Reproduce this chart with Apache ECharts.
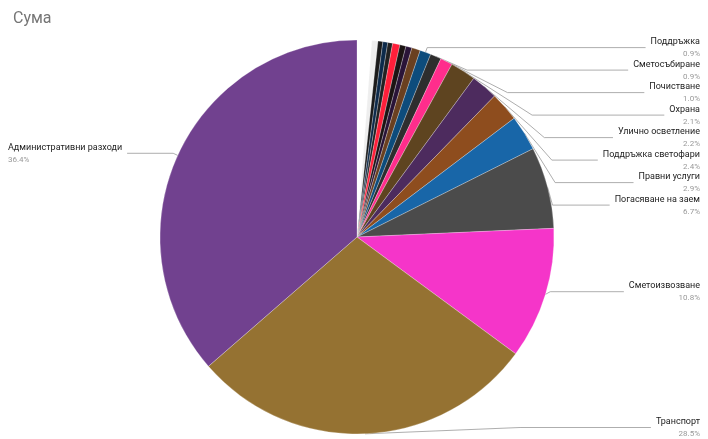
<!DOCTYPE html>
<html><head><meta charset="utf-8">
<script src="https://cdn.jsdelivr.net/npm/echarts@6/dist/echarts.min.js"></script>
<style>html,body{margin:0;padding:0;background:#fff}#chart{width:708px;height:439px}</style>
</head><body><div id="chart"></div>
<script>
var names = ['', ' ', '  ', '   ', '    ', '     ', '      ', '       ', '        ',
	'Поддръжка', 'Сметосъбиране', 'Почистване', 'Охрана', 'Улично осветление',
	'Поддръжка светофари', 'Правни услуги', 'Погасяване на заем', 'Сметоизвозване',
	'Транспорт', 'Административни разходи'];
var values = [1.2, 0.5, 0.4, 0.4, 0.4, 0.6, 0.5, 0.5, 0.7,
	0.9, 0.9, 1.0, 2.1, 2.2, 2.4, 2.9, 6.7, 10.8, 28.5, 36.4];
var colors = ['#ffffff', '#eeeeee', '#1a1a1a', '#0d2a4a', '#222222', '#ff1f3a', '#1c1414', '#2a1438', '#6a4020',
	'#0d4c7c', '#2e2e2e', '#ff2d8c', '#5e4420', '#4d2b5e', '#8e4d1e', '#1866a8', '#4b4b4b', '#f535c9',
	'#957232', '#71418f'];

var data = names.map(function(n, i) {
	var d = {name: n, value: values[i], itemStyle: {color: colors[i]}};
	if (n.trim() === '') {
		d.label = {show: false};
		d.labelLine = {show: false};
	}
	return d;
});

var chart = echarts.init(document.getElementById('chart'));
chart.setOption({
	animation: false,
	title: {text: 'Сума', left: 8, top: 6, textStyle: {fontFamily: 'Roboto', fontSize: 16, fontWeight: 'normal', color: '#757575'}},
	series: [{
		type: 'pie',
		center: [357, 237],
		radius: 197,
		startAngle: 90,
		clockwise: true,
		data: data,
		itemStyle: {borderColor: 'rgba(255,255,255,0.5)', borderWidth: 0.5},
		label: {
			show: true,
			alignTo: 'edge',
			edgeDistance: 8,
			formatter: function(p) { return '{n|' + p.name + '}\n{p|' + p.value.toFixed(1) + '%}'; },
			rich: {
				n: {fontFamily: 'Roboto', fontSize: 9, color: '#222', lineHeight: 13},
				p: {fontFamily: 'Roboto', fontSize: 8, color: '#999', lineHeight: 11}
			}
		},
		labelLine: {length: 5, length2: 10, lineStyle: {color: '#999', width: 0.8}}
	}]
});
</script>
</body></html>
